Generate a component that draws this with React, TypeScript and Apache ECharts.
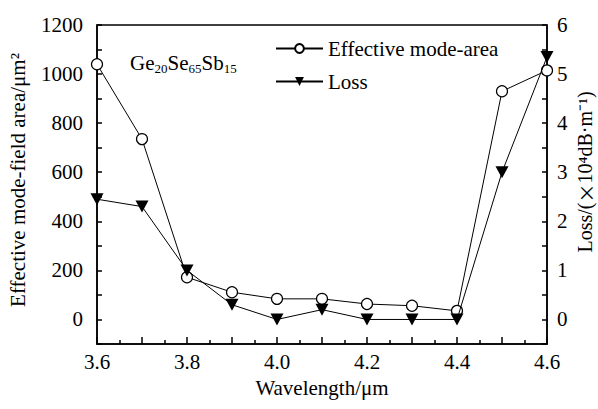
import React, { useEffect, useRef } from "react";
import * as echarts from "echarts";

// Wavelength sweep (µm)
const wavelengths = [3.6, 3.7, 3.8, 3.9, 4.0, 4.1, 4.2, 4.3, 4.4, 4.5, 4.6];
// Effective mode-field area (µm²)
const modeArea = [1040, 735, 172, 111, 84, 84, 63, 56, 35, 930, 1015];
// Loss (×10⁴ dB/m)
const loss = [2.45, 2.3, 1.0, 0.3, 0, 0.2, 0, 0, 0, 3.0, 5.35];

const FONT = "Liberation Serif";
const CJK = "Noto Sans CJK SC";

const serif = (size: number) => ({ fontSize: size, fontFamily: FONT, color: "#000", fill: "#000" });

export default function App() {
  const ref = useRef<HTMLDivElement>(null);

  useEffect(() => {
    if (!ref.current) return;
    const chart = echarts.init(ref.current, null, { renderer: "svg" });

    const axisLine = { show: true, onZero: false, lineStyle: { color: "#000", width: 1.5 } };
    const tickStyle = { color: "#000", width: 1.5 };
    const labelRich = { t: serif(21) };

    chart.setOption({
      animation: false,
      backgroundColor: "#fff",
      textStyle: { fontFamily: FONT, color: "#000" },
      grid: {
        left: 97,
        right: 51,
        top: 25,
        bottom: 65,
        show: true,
        borderColor: "#000",
        borderWidth: 1.5,
        backgroundColor: "transparent",
      },
      legend: {
        orient: "vertical",
        left: 270,
        top: 33,
        itemWidth: 47,
        itemHeight: 11,
        itemGap: 12,
        textStyle: { fontSize: 21, fontFamily: FONT, color: "#000" },
        data: ["Effective mode-area", "Loss"],
      },
      xAxis: {
        type: "value",
        min: 3.6,
        max: 4.6,
        interval: 0.1,
        axisLine,
        axisTick: { show: true, inside: true, length: 7, lineStyle: tickStyle },
        minorTick: { show: true, splitNumber: 2, length: 4, lineStyle: tickStyle },
        splitLine: { show: false },
        axisLabel: {
          margin: 7,
          rich: labelRich,
          formatter: (v: number) => (Math.round(v * 10) % 2 === 0 ? `{t|${v.toFixed(1)}}` : ""),
        },
      },
      yAxis: [
        {
          type: "value",
          min: -100,
          max: 1200,
          interval: 100,
          axisLine,
          axisTick: { show: true, inside: true, length: 5, lineStyle: tickStyle },
          splitLine: { show: false },
          axisLabel: {
            margin: 14,
            rich: labelRich,
            formatter: (v: number) => (v >= 0 && v % 200 === 0 ? `{t|${v}}` : ""),
          },
        },
        {
          type: "value",
          min: -0.5,
          max: 6,
          interval: 0.5,
          position: "right",
          axisLine,
          axisTick: { show: true, inside: true, length: 5, lineStyle: tickStyle },
          splitLine: { show: false },
          axisLabel: {
            margin: 10,
            rich: labelRich,
            formatter: (v: number) =>
              v >= 0 && Math.abs(v - Math.round(v)) < 1e-6 ? `{t|${Math.round(v)}}` : "",
          },
        },
      ],
      series: [
        {
          name: "Effective mode-area",
          type: "line",
          yAxisIndex: 0,
          data: wavelengths.map((w, i) => [w, modeArea[i]]),
          symbol: "circle",
          symbolSize: 11,
          lineStyle: { color: "#000", width: 1 },
          itemStyle: { color: "#fff", borderColor: "#000", borderWidth: 1.2 },
          z: 3,
        },
        {
          name: "Loss",
          type: "line",
          yAxisIndex: 1,
          data: wavelengths.map((w, i) => [w, loss[i]]),
          symbol: "triangle",
          symbolRotate: 180,
          symbolSize: [13, 12],
          lineStyle: { color: "#000", width: 1 },
          itemStyle: { color: "#000", borderColor: "#000", borderWidth: 0 },
          z: 4,
        },
      ],
      graphic: [
        {
          type: "text",
          x: 130,
          y: 63,
          style: {
            text: "{n|Ge}{s|20}{n|Se}{s|65}{n|Sb}{s|15}",
            verticalAlign: "middle",
            fill: "#000",
            rich: {
              n: serif(21),
              s: { ...serif(13), padding: [10, 0, 0, 0] },
            },
          },
        },
        {
          type: "text",
          x: 18,
          y: 180,
          rotation: Math.PI / 2,
          style: {
            text: "{t|Effective mode-field area/μm²}",
            align: "center",
            verticalAlign: "middle",
            fill: "#000",
            rich: { t: serif(21) },
          },
        },
        {
          type: "text",
          x: 585,
          y: 172,
          rotation: Math.PI / 2,
          style: {
            text: "{t|Loss/(}{x|×}{t|10⁴dB·m⁻¹)}",
            align: "center",
            verticalAlign: "middle",
            fill: "#000",
            rich: {
              t: { ...serif(20), lineHeight: 20 },
              x: { fontSize: 19, fontFamily: CJK, color: "#000", fill: "#000", lineHeight: 20 },
            },
          },
        },
        {
          type: "text",
          x: 322,
          y: 388,
          style: {
            text: "{t|Wavelength/μm}",
            align: "center",
            verticalAlign: "middle",
            fill: "#000",
            rich: { t: serif(21) },
          },
        },
      ],
    });

    return () => chart.dispose();
  }, []);

  return <div ref={ref} style={{ width: 598, height: 409, position: "fixed", left: 0, top: 0 }} />;
}
